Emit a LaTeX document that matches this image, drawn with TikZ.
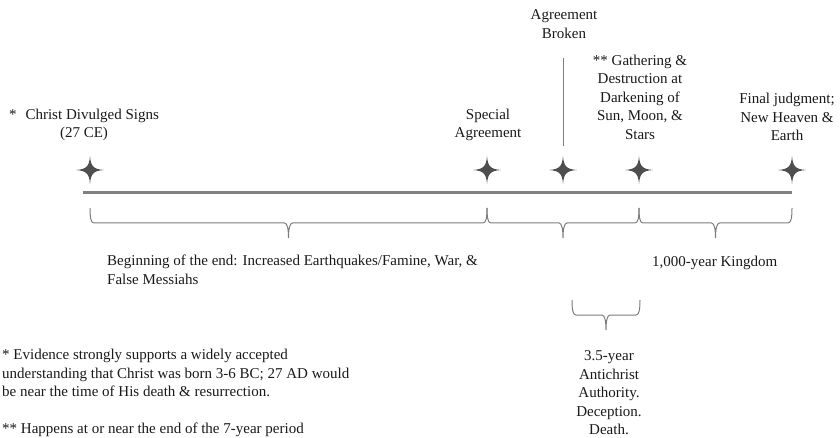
\documentclass[tikz,border=0pt]{standalone}
\usepackage{fontspec}
\setmainfont{Liberation Serif}
\usetikzlibrary{calc}
\definecolor{txtcol}{RGB}{25,25,25}
\definecolor{starcol}{RGB}{78,78,78}
\definecolor{linecol}{RGB}{128,128,128}
\definecolor{bracecol}{RGB}{125,125,125}
\tikzset{
  lbl/.style={inner sep=0pt, text=txtcol, font=\fontsize{15}{18.5}\selectfont, align=center},
  lbll/.style={lbl, align=left, anchor=west},
  timeline/.style={draw=linecol, line width=3pt},
  bracestyle/.style={draw=bracecol, line width=1pt},
  vline/.style={draw=linecol, line width=1pt},
  starpic/.pic={\fill[starcol] (0,14) .. controls (0.8,3.5) and (3.5,0.8) .. (14,0)
     .. controls (3.5,-0.8) and (0.8,-3.5) .. (0,-14)
     .. controls (-0.8,-3.5) and (-3.5,-0.8) .. (-14,0)
     .. controls (-3.5,0.8) and (-0.8,3.5) .. cycle;}
}
\newcommand\tlbrace[2]{\draw[bracestyle] (#1) .. controls +(0,10) and +(-3,0) .. ($(#1)+(4,15)$)
  -- ($(#1)!.5!(#2)+(-4,15)$) .. controls +(3,0) and +(0,-8) .. ($(#1)!.5!(#2)+(0,30)$)
  .. controls +(0,-8) and +(-3,0) .. ($(#1)!.5!(#2)+(4,15)$)
  -- ($(#2)+(-4,15)$) .. controls +(3,0) and +(0,10) .. (#2);}
\begin{document}
\begin{tikzpicture}[x=1pt,y=-1pt]
\useasboundingbox (0,0) rectangle (840,438);
% timeline
\coordinate (tl) at (83,193);
\coordinate (tr) at (792,193);
\draw[timeline] (tl) -- (tr);
% stars
\coordinate (s1) at (90,170);
\coordinate (s2) at (487,170);
\coordinate (s3) at (563,170);
\coordinate (s4) at (639,170);
\coordinate (s5) at (792,170);
\foreach \s in {s1,s2,s3,s4,s5} \pic at (\s) {starpic};
% vertical line
\coordinate (v1) at (563,58);
\coordinate (v2) at (563,146);
\draw[vline] (v1) -- (v2);
% braces
\coordinate (b0) at (90,208);
\coordinate (b1) at (487,208);
\coordinate (b2) at (639,208);
\coordinate (b3) at (792,208);
\tlbrace{b0}{b1}
\tlbrace{b1}{b2}
\tlbrace{b2}{b3}
\coordinate (c0) at (572,300);
\coordinate (c1) at (640,300);
\tlbrace{c0}{c1}
% labels
\node[lbl] (christ) at (84,125) {*\hspace{0.6em}Christ Divulged Signs\\(27 CE)};
\node[lbl] (special) at (488,125) {Special\\Agreement};
\node[lbl] (broken) at (564,24) {Agreement\\Broken};
\node[lbl] (gather) at (640,97) {** Gathering \&\\Destruction at\\Darkening of\\Sun, Moon, \&\\Stars};
\node[lbl] (final) at (787,117) {Final judgment;\\New Heaven \&\\Earth};
\node[lbll] (begin) at (107,270) {Beginning of the end: Increased Earthquakes/Famine, War, \&\\False Messiahs};
\node[lbll] (kingdom) at (652,263) {1,000-year Kingdom};
\node[lbl] (anti) at (609,393) {3.5-year\\Antichrist\\Authority.\\Deception.\\Death.};
\node[lbll] (foot) at (2,393) {* Evidence strongly supports a widely accepted\\understanding that Christ was born 3-6 BC; 27 AD would\\be near the time of His death \& resurrection.\\[18.5pt]** Happens at or near the end of the 7-year period};
\end{tikzpicture}
\end{document}
